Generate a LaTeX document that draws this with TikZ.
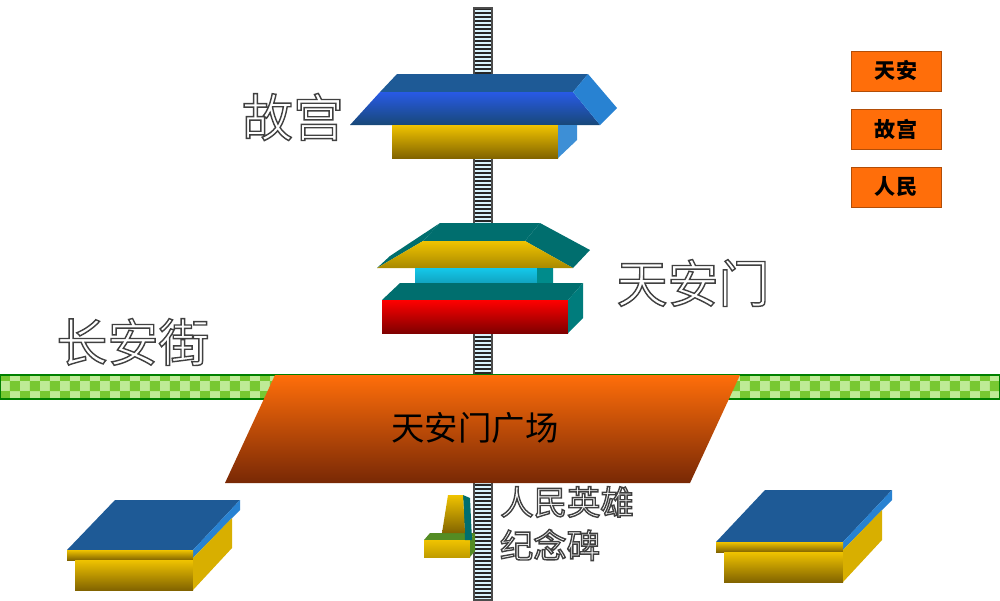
\documentclass[tikz,border=0pt]{standalone}
\usepackage{fontspec}
\setmainfont{Noto Sans CJK SC}
\usetikzlibrary{patterns,calc}
\definecolor{orng}{RGB}{255,110,10}
\definecolor{brn}{RGB}{120,40,5}
\definecolor{dblue}{RGB}{30,90,150}
\definecolor{rblue}{RGB}{40,90,230}
\definecolor{lblue}{RGB}{40,130,210}
\definecolor{gold}{RGB}{240,195,0}
\definecolor{dgold}{RGB}{130,100,0}
\definecolor{teal1}{RGB}{0,110,110}
\definecolor{cyan1}{RGB}{20,200,235}
\definecolor{lgreen}{RGB}{190,235,150}
\definecolor{mgreen}{RGB}{120,200,50}
\newcommand\outl[1]{\special{pdf:literal direct 2 Tr 0.8 w 0.25 G}#1\special{pdf:literal direct 0 Tr}}
\begin{document}
\begin{tikzpicture}[x=0.02cm,y=-0.02cm,
  btn/.style={draw=orng!70!black,fill=orng,minimum width=90*0.02cm,minimum height=40*0.02cm,font=\bfseries\large,inner sep=0pt},
  big/.style={text=white,font=\fontsize{29}{29}\selectfont},
  small/.style={text=white,font=\fontsize{19}{19}\selectfont}]
\useasboundingbox (0,0) rectangle (1000,600);
% ladder
\fill[cyan!15!white] (474,8) rectangle (492,600);
\foreach \y in {8,12,...,598} \fill[black!85] (474,\y) rectangle (492,\y+1.6);
\draw[black!70,line width=0.6pt] (474,8) rectangle (492,600);
% green road
\fill[lgreen] (0,375) rectangle (1000,399);
\fill[pattern=checkerboard,pattern color=mgreen] (0,375) rectangle (1000,399);
\draw[black!50!green,line width=0.6pt] (0,375) rectangle (1000,399);
% square
\shade[top color=orng,bottom color=brn] (275,375) -- (740,375) -- (690,483) -- (225,483) -- cycle;
\node[font=\fontsize{19}{19}\selectfont,text=black] (sq) at (475,428) {天安门广场};
% Gugong
\fill[dblue] (397,74) -- (588,74) -- (573,92) -- (380,92) -- cycle;
\shade[top color=rblue,bottom color=dblue!80!black] (380,92) -- (573,92) -- (600,125) -- (350,125) -- cycle;
\fill[lblue] (588,74) -- (617,108) -- (600,125) -- (573,92) -- cycle;
\shade[top color=gold,bottom color=dgold] (392,125) rectangle (558,158);
\fill[lblue!90!white] (558,125) -- (577,125) -- (577,140) -- (558,158) -- cycle;
% Tiananmen
\fill[teal1] (440,223) -- (540,223) -- (525,241) -- (423,241) -- cycle;
\fill[teal1] (440,223) -- (423,241) -- (377,268) -- (390,256) -- cycle;
\fill[teal1] (540,223) -- (590,250) -- (573,268) -- (525,241) -- cycle;
\shade[top color=gold,bottom color=gold!70!black] (423,241) -- (525,241) -- (573,268) -- (377,268) -- cycle;
\shade[top color=cyan1,bottom color=cyan1!60!black] (415,268) rectangle (537,300);
\fill[teal1!80!cyan] (537,268) -- (553,268) -- (553,283) -- (537,300) -- cycle;
\fill[teal1] (400,283) -- (583,283) -- (568,300) -- (382,300) -- cycle;
\fill[teal1] (415,283) rectangle (537,285);
\shade[top color=red,bottom color=red!50!black] (382,300) rectangle (568,333);
\fill[teal1!90!cyan] (568,300) -- (583,283) -- (583,318) -- (568,333) -- cycle;
% monument
\fill[mgreen!70!black] (430,533) -- (475,533) -- (470,540) -- (424,540) -- cycle;
\shade[top color=gold,bottom color=gold!80!black] (424,540) rectangle (470,557);
\fill[mgreen!70!black] (470,540) -- (475,533) -- (475,551) -- (470,557) -- cycle;
\fill[teal1] (463,495) -- (470,498) -- (472,540) -- (465,540) -- cycle;
\shade[top color=gold,bottom color=dgold] (448,495) -- (463,495) -- (465,533) -- (442,533) -- cycle;
% left box
\fill[dblue] (115,500) -- (240,500) -- (193,550) -- (67,550) -- cycle;
\fill[lblue] (240,500) -- (240,510) -- (193,558) -- (193,550) -- cycle;
\shade[top color=gold,bottom color=dgold] (67,550) rectangle (193,560);
\shade[top color=gold,bottom color=dgold] (75,560) rectangle (193,590);
\fill[gold!90!black] (193,558) -- (232,518) -- (232,548) -- (193,590) -- cycle;
% right box
\fill[dblue] (765,490) -- (892,490) -- (843,542) -- (716,542) -- cycle;
\fill[lblue] (892,490) -- (892,500) -- (843,550) -- (843,542) -- cycle;
\shade[top color=gold,bottom color=dgold] (716,542) rectangle (843,552);
\shade[top color=gold,bottom color=dgold] (724,552) rectangle (843,582);
\fill[gold!90!black] (843,550) -- (882,510) -- (882,540) -- (843,582) -- cycle;
% labels
\node[big] (gg) at (293,117) {\outl{故宫}};
\node[big] (tam) at (693,283) {\outl{天安门}};
\node[big] (caj) at (133,342) {\outl{长安街}};
\node[small] (rm) at (567,502) {\outl{人民英雄}};
\node[small] (jnb) at (550,545) {\outl{纪念碑}};
% buttons
\node[btn] (b1) at (896,71) {天安};
\node[btn] (b2) at (896,129) {故宫};
\node[btn] (b3) at (896,187) {人民};
\end{tikzpicture}
\end{document}
